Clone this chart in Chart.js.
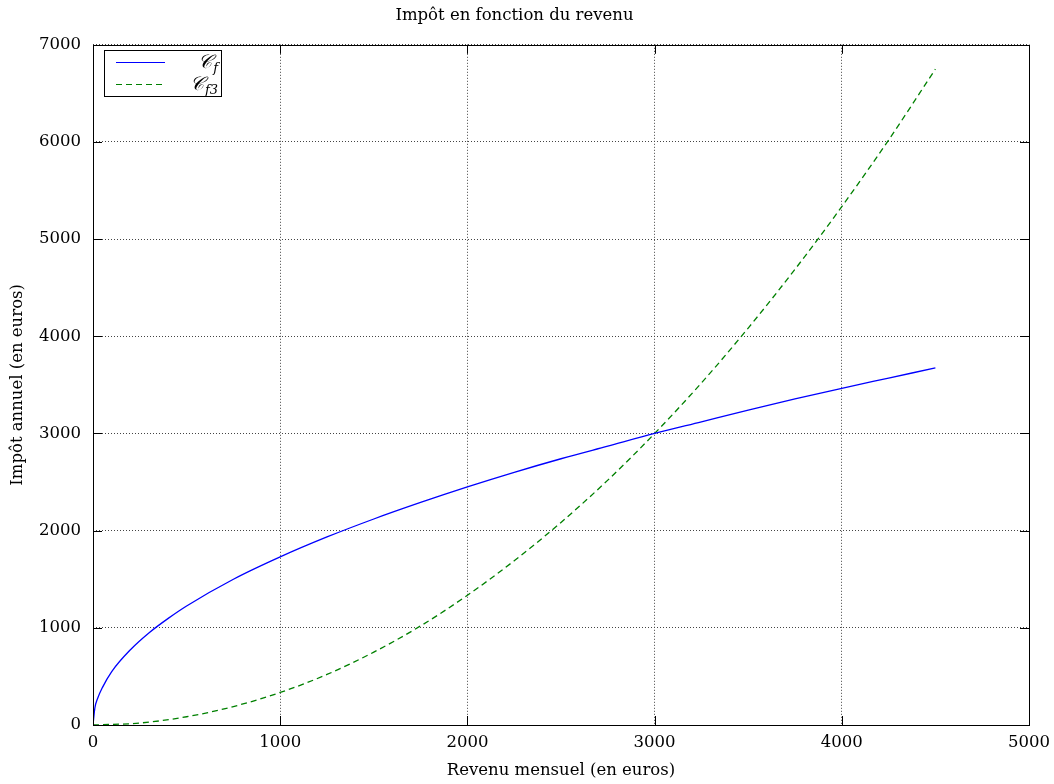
<!DOCTYPE html>
<html>
<head>
<meta charset="utf-8">
<script src="https://cdn.jsdelivr.net/npm/chart.js@4"></script>
<style>
  html, body { margin: 0; padding: 0; background: #fff; }
  #wrap { width: 1054px; height: 784px; }
</style>
</head>
<body>
<div id="wrap"><canvas id="c" width="1054" height="784"></canvas></div>
<script>
// values
const revenuF = [0, 10, 25, 50, 100, 200, 300, 400, 500, 750, 1000, 1250, 1500, 1750, 2000, 2250, 2500, 2750, 3000, 3250, 3500, 3750, 4000, 4250, 4500];
const impotF = [0, 175, 275, 385, 550, 775, 950, 1095, 1225, 1500, 1730, 1935, 2120, 2290, 2450, 2600, 2740, 2870, 3000, 3120, 3240, 3355, 3465, 3570, 3675];

const revenuF3 = [0, 250, 500, 750, 1000, 1250, 1500, 1750, 2000, 2250, 2500, 2750, 3000, 3250, 3500, 3750, 4000, 4250, 4500];
const impotF3 = [0, 20, 85, 190, 335, 520, 750, 1020, 1335, 1690, 2085, 2520, 3000, 3520, 4085, 4690, 5335, 6020, 6750];

const xTicks = [0, 1000, 2000, 3000, 4000, 5000];
const yTicks = [0, 1000, 2000, 3000, 4000, 5000, 6000, 7000];

const FONT = 'DejaVu Serif';
const FSIZE = 16.5;

function pts(xs, ys) {
  return xs.map((x, i) => ({ x: x, y: ys[i] }));
}

// frame, inward ticks and legend, gnuplot style
const framePlugin = {
  id: 'frame',
  afterDatasetsDraw(chart) {
    const ctx = chart.ctx;
    const a = chart.chartArea;
    const xs = chart.scales.x, ys = chart.scales.y;
    ctx.save();
    ctx.strokeStyle = '#000';
    ctx.lineWidth = 1;
    ctx.beginPath();
    xTicks.forEach((v) => {
      const px = Math.round(xs.getPixelForValue(v)) + 0.5;
      ctx.moveTo(px, a.bottom); ctx.lineTo(px, a.bottom - 9);
      ctx.moveTo(px, a.top); ctx.lineTo(px, a.top + 9);
    });
    yTicks.forEach((v) => {
      const py = Math.round(ys.getPixelForValue(v)) + 0.5;
      ctx.moveTo(a.left, py); ctx.lineTo(a.left + 9, py);
      ctx.moveTo(a.right, py); ctx.lineTo(a.right - 9, py);
    });
    ctx.stroke();
    ctx.strokeRect(Math.round(a.left) + 0.5, Math.round(a.top) + 0.5,
      Math.round(a.right - a.left), Math.round(a.bottom - a.top));

    // legend box
    const bx = 104.5, by = 50.5, bw = 117, bh = 46;
    ctx.fillStyle = '#fff';
    ctx.fillRect(bx, by, bw, bh);
    ctx.strokeRect(bx, by, bw, bh);
    const rows = [
      { color: '#0000ff', dash: [], sub: 'f', y: 62 },
      { color: '#008000', dash: [6, 4], sub: 'f3', y: 84 }
    ];
    rows.forEach((r) => {
      ctx.strokeStyle = r.color;
      ctx.setLineDash(r.dash);
      ctx.beginPath();
      ctx.moveTo(116, r.y + 0.5); ctx.lineTo(165, r.y + 0.5);
      ctx.stroke();
      ctx.setLineDash([]);
      ctx.fillStyle = '#000';
      ctx.textBaseline = 'alphabetic';
      ctx.font = 'italic 13px ' + FONT;
      const sw = ctx.measureText(r.sub).width;
      ctx.textAlign = 'right';
      ctx.fillText(r.sub, 218, r.y + 10);
      ctx.font = 'italic 19px ' + FONT;
      ctx.fillText('\u{1D49E}', 217 - sw, r.y + 6);
    });
    ctx.restore();
  }
};

new Chart(document.getElementById('c'), {
  type: 'scatter',
  data: {
    datasets: [
      {
        label: 'Cf',
        data: pts(revenuF, impotF),
        showLine: true,
        borderColor: '#0000ff',
        borderWidth: 1.3,
        pointRadius: 0,
        cubicInterpolationMode: 'monotone'
      },
      {
        label: 'Cf3',
        data: pts(revenuF3, impotF3),
        showLine: true,
        borderColor: '#008000',
        borderWidth: 1.3,
        borderDash: [6, 4],
        pointRadius: 0,
        cubicInterpolationMode: 'monotone'
      }
    ]
  },
  options: {
    responsive: false,
    animation: false,
    layout: { padding: { left: 0, right: 25, top: 0, bottom: 0 } },
    plugins: {
      legend: { display: false },
      tooltip: { enabled: false },
      title: {
        display: true,
        text: 'Impôt en fonction du revenu',
        color: '#000',
        font: { family: FONT, size: FSIZE, weight: 'normal' },
        padding: { top: 6, bottom: 19 }
      }
    },
    scales: {
      x: {
        type: 'linear',
        min: 0,
        max: 5000,
        afterFit(s) { s.height = 59; s.paddingLeft = 0; s.paddingRight = 0; },
        afterBuildTicks(s) { s.ticks = xTicks.map((v) => ({ value: v })); },
        grid: { color: '#444', drawTicks: false },
        border: { display: false, dash: [1, 2] },
        ticks: { color: '#000', padding: 8, font: { family: FONT, size: FSIZE }, callback: (v) => String(v) },
        title: {
          display: true,
          text: 'Revenu mensuel (en euros)',
          color: '#000',
          font: { family: FONT, size: FSIZE },
          padding: { top: 0, bottom: 3 }
        }
      },
      y: {
        type: 'linear',
        min: 0,
        max: 7000,
        afterFit(s) { s.width = 93; s.paddingTop = 0; s.paddingBottom = 0; },
        afterBuildTicks(s) { s.ticks = yTicks.map((v) => ({ value: v })); },
        grid: { color: '#444', drawTicks: false },
        border: { display: false, dash: [1, 2] },
        ticks: { color: '#000', padding: 12, font: { family: FONT, size: FSIZE }, callback: (v) => String(v) },
        title: {
          display: true,
          text: 'Impôt annuel (en euros)',
          color: '#000',
          font: { family: FONT, size: FSIZE },
          padding: { top: 8, bottom: 0 }
        }
      }
    }
  },
  plugins: [framePlugin]
});
</script>
</body>
</html>
